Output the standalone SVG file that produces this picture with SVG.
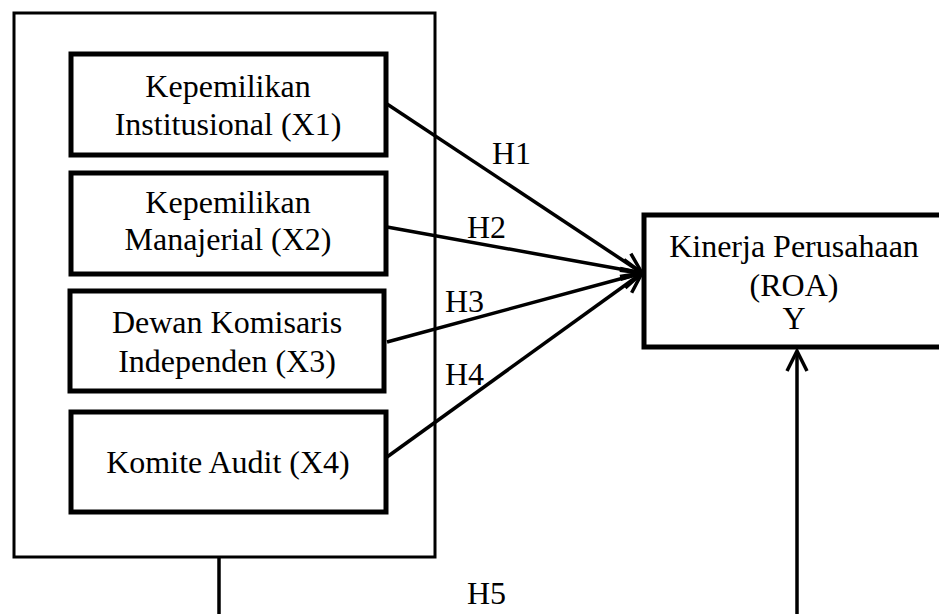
<svg xmlns="http://www.w3.org/2000/svg" width="939" height="614" viewBox="0 0 939 614">
<style>
text{font-family:"Liberation Serif","Times New Roman","DejaVu Serif",serif;font-size:32px;fill:#000;text-anchor:middle}
.outer{fill:#fff;stroke:#000;stroke-width:3}
.box{fill:#fff;stroke:#000;stroke-width:5}
.conn{fill:none;stroke:#000;stroke-width:3.5}
.lbl{text-anchor:start}
</style>
<defs>
<marker id="arrBig" markerWidth="26" markerHeight="26" viewBox="0 0 26 26" refX="23" refY="13" orient="auto" markerUnits="userSpaceOnUse">
<path d="M3,3 L23,13 L3,23" fill="none" stroke="#000" stroke-width="3.5"/>
</marker>
</defs>
<g id="outer"><rect class="outer" x="14" y="13" width="421" height="544"/></g>
<g id="x1"><rect class="box" x="71" y="54" width="315" height="101"/><text x="228" y="97" font-family="Liberation Serif, serif">Kepemilikan</text><text x="228" y="135" font-family="Liberation Serif, serif">Institusional (X1)</text></g>
<g id="x2"><rect class="box" x="71" y="173" width="315" height="101"/><text x="228" y="213" font-family="Liberation Serif, serif">Kepemilikan</text><text x="228" y="250" font-family="Liberation Serif, serif">Manajerial (X2)</text></g>
<g id="x3"><rect class="box" x="70" y="291" width="314" height="100"/><text x="227" y="333" font-family="Liberation Serif, serif">Dewan Komisaris</text><text x="227" y="372" font-family="Liberation Serif, serif">Independen (X3)</text></g>
<g id="x4"><rect class="box" x="71" y="412" width="315" height="100"/><text x="228" y="473" font-family="Liberation Serif, serif">Komite Audit (X4)</text></g>
<g id="y"><rect class="box" x="644" y="215" width="310" height="132"/><text x="794" y="257" font-family="Liberation Serif, serif">Kinerja Perusahaan</text><text x="794" y="296" font-family="Liberation Serif, serif">(ROA)</text><text x="794" y="329" font-family="Liberation Serif, serif">Y</text></g>
<g id="connectors">
<line class="conn" x1="387" y1="104" x2="642" y2="273" marker-end="url(#arrBig)"/>
<line class="conn" x1="387" y1="227" x2="642" y2="273" marker-end="url(#arrBig)"/>
<line class="conn" x1="387" y1="342" x2="642" y2="273" marker-end="url(#arrBig)"/>
<line class="conn" x1="387" y1="457" x2="642" y2="273" marker-end="url(#arrBig)"/>
<line class="conn" x1="219" y1="557" x2="219" y2="614"/>
<line class="conn" x1="797" y1="614" x2="797" y2="351" marker-end="url(#arrBig)"/>
<text class="lbl" x="492" y="164" font-family="Liberation Serif, serif">H1</text>
<text class="lbl" x="467" y="238" font-family="Liberation Serif, serif">H2</text>
<text class="lbl" x="445" y="312" font-family="Liberation Serif, serif">H3</text>
<text class="lbl" x="445" y="385" font-family="Liberation Serif, serif">H4</text>
<text class="lbl" x="467" y="604" font-family="Liberation Serif, serif">H5</text>
</g>
</svg>
